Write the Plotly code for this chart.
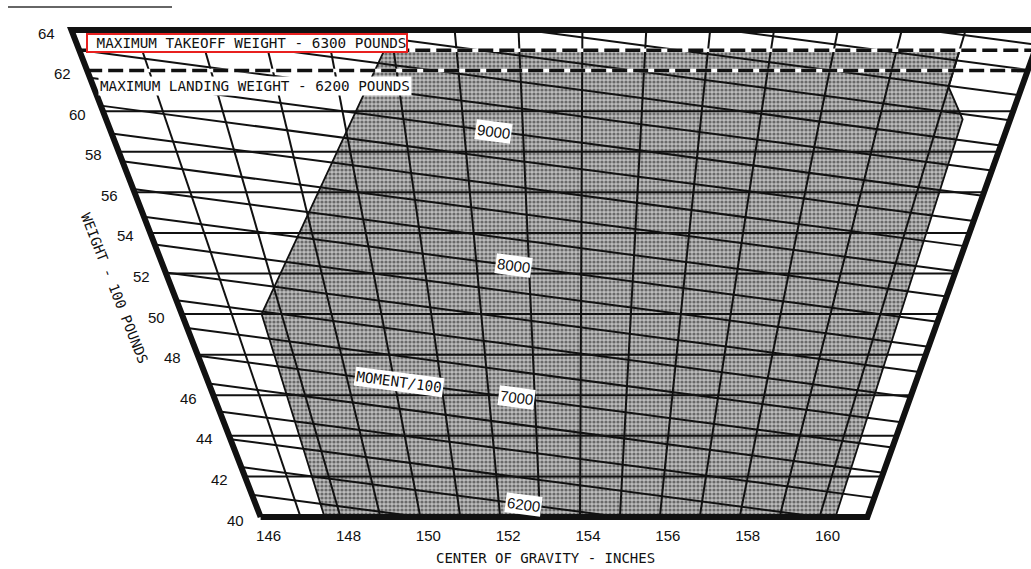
import plotly.graph_objects as go

# ---------------- data ----------------
CG_LINES = [147, 148, 149, 150, 151, 152, 153, 154, 155, 156, 157, 158, 159, 160]
WEIGHT_LINES = [42, 44, 46, 48, 50, 52, 54, 56, 58, 60]
MOMENT_LINES = [6000, 6200, 6400, 6600, 6800, 7000, 7200, 7400, 7600, 7800, 8000,
                8200, 8400, 8600, 8800, 9000, 9200, 9400, 9600, 9800, 10000, 10200]
CG_TICKS = [146, 148, 150, 152, 154, 156, 158, 160]
WEIGHT_TICKS = [40, 42, 44, 46, 48, 50, 52, 54, 56, 58, 60, 62, 64]
FRAME_CG = [146, 161.2]
FRAME_W = [40, 64]
MAX_TAKEOFF_W = 63
MAX_LANDING_W = 62
ENVELOPE_CG = [147.6, 147.6, 150.85, 160.0, 160.0, 160.4, 160.4, 147.6]
ENVELOPE_W = [40, 50, 63, 63, 61.2, 59.6, 40, 40]
MOMENT_LABELS = [6200, 7000, 8000, 9000]

# ---------------- chart projection ----------------
C0 = 153.9  # CG at which the CG lines are vertical


def xy(cg, w):
    return w * (cg - C0), w


def moment_x(m, w):
    return m - C0 * w


MONO = "DejaVu Sans Mono"
SANS = "Liberation Sans, Arial, sans-serif"
INK = "#111111"

fig = go.Figure()

# shaded envelope
ex = [xy(c, w)[0] for c, w in zip(ENVELOPE_CG, ENVELOPE_W)]
fig.add_trace(go.Scatter(
    x=ex, y=ENVELOPE_W, mode="lines", fill="toself",
    fillcolor="#8c8c8c",
    fillpattern=dict(shape=".", fgcolor="#151515", bgcolor="#bcbcbc", size=4, solidity=0.5),
    line=dict(color=INK, width=1.8), hoverinfo="skip", showlegend=False))

cgL, cgR = FRAME_CG
wB, wT = FRAME_W

# constant CG lines
for cg in CG_LINES:
    fig.add_trace(go.Scatter(
        x=[xy(cg, wB)[0], xy(cg, wT)[0]], y=[wB, wT], mode="lines",
        line=dict(color=INK, width=2), hoverinfo="skip", showlegend=False))

# constant weight lines
for w in WEIGHT_LINES:
    fig.add_trace(go.Scatter(
        x=[xy(cgL, w)[0], xy(cgR, w)[0]], y=[w, w], mode="lines",
        line=dict(color=INK, width=2), hoverinfo="skip", showlegend=False))

# constant moment lines
for m in MOMENT_LINES:
    w1 = max(wB, m / cgR)
    w2 = min(wT, m / cgL)
    if w1 < w2:
        fig.add_trace(go.Scatter(
            x=[moment_x(m, w1), moment_x(m, w2)], y=[w1, w2], mode="lines",
            line=dict(color=INK, width=2), hoverinfo="skip", showlegend=False))

# max weight dashed lines
for w in (MAX_TAKEOFF_W, MAX_LANDING_W):
    xs = [xy(cgL, w)[0], xy(cgR, w)[0]]
    fig.add_trace(go.Scatter(x=xs, y=[w, w], mode="lines",
                             line=dict(color="white", width=3.5),
                             hoverinfo="skip", showlegend=False))
    fig.add_trace(go.Scatter(x=xs, y=[w, w], mode="lines",
                             line=dict(color=INK, width=3.5, dash="15px,6px"),
                             hoverinfo="skip", showlegend=False))

# frame
fcg = [cgL, cgR, cgR, cgL, cgL]
fw = [wB, wB, wT, wT, wB]
fig.add_trace(go.Scatter(
    x=[xy(c, w)[0] for c, w in zip(fcg, fw)], y=fw, mode="lines",
    line=dict(color=INK, width=6), hoverinfo="skip", showlegend=False))

annotations = []

# weight tick labels along slanted left edge
for w in WEIGHT_TICKS:
    annotations.append(dict(
        x=xy(cgL, w)[0], y=w, text=str(w), showarrow=False,
        xshift=-25, yshift=-3, font=dict(family=SANS, size=15, color=INK)))

# moment labels on their lines
label_cg = {6200: 152.6, 7000: 152.6, 8000: 152.7, 9000: 152.5}
for m in MOMENT_LABELS:
    w = m / label_cg[m]
    annotations.append(dict(
        x=moment_x(m, w), y=w, text=str(m), showarrow=False, textangle=7.5,
        bgcolor="white", borderpad=1, font=dict(family=SANS, size=15, color=INK)))

w_mom = 7000 / 150.1
annotations.append(dict(
    x=moment_x(7000, w_mom), y=w_mom, text="MOMENT/100", showarrow=False,
    textangle=7.5, bgcolor="white", borderpad=1,
    font=dict(family=MONO, size=14.3, color=INK)))

# max weight captions
w_to = 63.36
annotations.append(dict(
    x=xy(cgL, w_to)[0], y=w_to, xanchor="left", xshift=10,
    text="\u00a0MAXIMUM TAKEOFF WEIGHT - 6300 POUNDS", showarrow=False,
    bgcolor="white", bordercolor="#e8201f", borderwidth=2, borderpad=0,
    font=dict(family=MONO, size=14.3, color=INK)))
w_ld = 61.24
annotations.append(dict(
    x=xy(cgL, w_ld)[0], y=w_ld, xanchor="left", xshift=5,
    text="MAXIMUM LANDING WEIGHT - 6200 POUNDS", showarrow=False,
    bgcolor="white", borderpad=1,
    font=dict(family=MONO, size=14.3, color=INK)))

# axis titles
w_t = 51.3
annotations.append(dict(
    x=xy(cgL, w_t)[0], y=w_t, xshift=-57, text="WEIGHT - 100 POUNDS",
    textangle=68.6, showarrow=False, font=dict(family=MONO, size=14, color=INK)))
annotations.append(dict(
    x=545 / 1031, y=0, xref="paper", yref="paper", yanchor="middle", yshift=-36,
    text="CENTER OF GRAVITY - INCHES", showarrow=False,
    font=dict(family=MONO, size=14, color=INK)))

W_PX, H_PX, B_PX = 1031, 569, 47
x_min, x_max = -577.15, 455.9
y_min, y_max = 39.754, 65.48

fig.update_layout(
    width=W_PX, height=H_PX,
    margin=dict(l=0, r=0, t=0, b=B_PX),
    paper_bgcolor="white", plot_bgcolor="white",
    showlegend=False,
    annotations=annotations,
    shapes=[dict(type="line", xref="paper", yref="paper",
                 x0=8 / 1031, x1=172 / 1031, y0=(522 - 7) / 522, y1=(522 - 7) / 522,
                 line=dict(color="#333333", width=1.5))],
    xaxis=dict(range=[x_min, x_max], showgrid=False, zeroline=False, showline=False,
               tickmode="array",
               tickvals=[xy(c, wB)[0] for c in CG_TICKS],
               ticktext=[str(c) for c in CG_TICKS],
               ticks="", ticklabelshift=8, ticklabelstandoff=3,
               tickfont=dict(family=SANS, size=15, color=INK), fixedrange=True),
    yaxis=dict(range=[y_min, y_max], showgrid=False, zeroline=False, showline=False,
               showticklabels=False, fixedrange=True),
)

fig.write_html(
    "out.html",
    config={"displayModeBar": False},
    post_script="document.body.style.margin='0';document.body.style.overflow='hidden';",
)
